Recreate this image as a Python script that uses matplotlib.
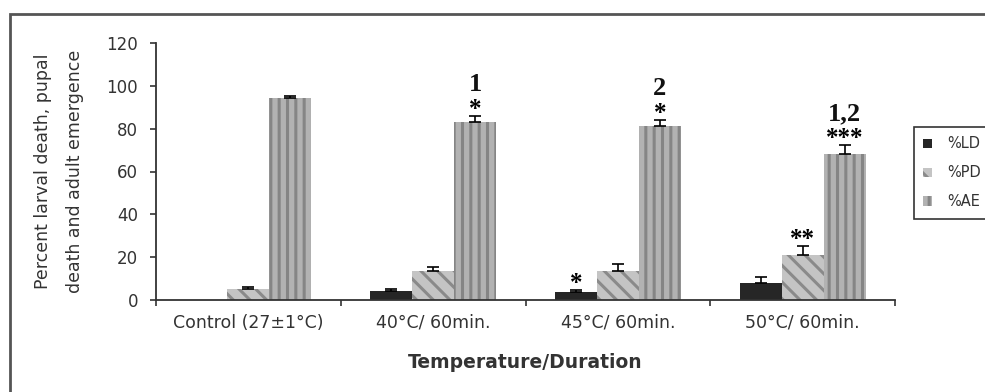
import matplotlib
matplotlib.use("Agg")
import matplotlib.pyplot as plt
from matplotlib.patches import Rectangle, Patch
import numpy as np

categories = ["Control (27\u00b11\u00b0C)", "40\u00b0C/ 60min.", "45\u00b0C/ 60min.", "50\u00b0C/ 60min."]
series_names = ["%LD", "%PD", "%AE"]
ld_values = [0.0, 4.2, 3.9, 7.8]
pd_values = [5.3, 13.5, 13.5, 21.0]
ae_values = [94.5, 83.0, 81.3, 68.0]
ld_err = [0.0, 0.8, 0.8, 2.8]
pd_err = [0.7, 1.8, 3.5, 4.4]
ae_err = [0.7, 3.0, 2.7, 4.4]
ld_stars = ["", "", "*", ""]
pd_stars = ["", "", "", "**"]
ae_stars = ["", "*", "*", "***"]
ae_labels = ["", "1", "2", "1,2"]

plt.rcParams['hatch.linewidth'] = 2.2

fig = plt.figure(figsize=(9.85, 3.92), dpi=100)
ax = fig.add_axes([156/985, 1-300/392, (895-156)/985, (300-43)/392])

x = np.arange(len(categories))
w = 1/4.4
styles = [
    dict(color="#262626", edgecolor="#262626", hatch=None),
    dict(color="#c4c4c4", edgecolor="#8a8a8a", hatch="\\\\"),
    dict(color="#b2b2b2", edgecolor="#858585", hatch="||"),
]
vals = [ld_values, pd_values, ae_values]
errs = [ld_err, pd_err, ae_err]
stars = [ld_stars, pd_stars, ae_stars]
for i, (v, e, st, s) in enumerate(zip(vals, errs, styles, stars)):
    xs = x + (i - 1) * w
    v = np.asarray(v, float)
    e = np.asarray(e, float)
    ax.bar(xs, v, width=w, color=st["color"], edgecolor=st["edgecolor"],
           hatch=st["hatch"], linewidth=0, zorder=2)
    m = v > 0
    ax.errorbar(xs[m], v[m], yerr=[np.zeros(m.sum()), e[m]], fmt="none", ecolor="black",
                elinewidth=1.2, capsize=4, capthick=1.2, zorder=3)
    for xi, vi, ei, si in zip(xs, v, e, s):
        if si:
            ax.annotate(si, (xi, vi + ei), xytext=(0, 0), textcoords="offset points",
                        ha="center", va="baseline", fontsize=18, fontweight="bold",
                        family="Liberation Serif", color="black")

for xi, vi, ei, lab in zip(x + w, ae_values, ae_err, ae_labels):
    if lab:
        ax.annotate(lab, (xi, vi + ei), xytext=(0, 18), textcoords="offset points",
                    ha="center", va="baseline", fontsize=19, fontweight="bold",
                    family="Liberation Serif", color="#111111")

ax.set_xlim(-0.5, len(categories) - 0.5)
ax.set_ylim(0, 120)
ax.set_yticks(range(0, 121, 20))
ax.set_xticks(x)
ax.set_xticklabels(categories, fontsize=12.5, color="#333333")
ax.set_xticks(np.arange(-0.5, len(categories), 1.0), minor=True)
ax.tick_params(axis="x", which="major", length=0, pad=10)
ax.tick_params(axis="x", which="minor", length=4, width=1.2, color="#333333")
ax.tick_params(axis="y", length=4, width=1.2, color="#333333", labelsize=12,
               labelcolor="#333333", pad=9)
for sp in ["top", "right"]:
    ax.spines[sp].set_visible(False)
for sp in ["left", "bottom"]:
    ax.spines[sp].set_linewidth(1.3)
    ax.spines[sp].set_color("#333333")

ax.set_ylabel("Percent larval death, pupal\ndeath and adult emergence", fontsize=12.5,
              color="#333333", labelpad=16, linespacing=2.0)
ax.set_xlabel("Temperature/Duration", fontsize=13.5, fontweight="bold", color="#333333", labelpad=15)

handles = [Patch(facecolor=st["color"], edgecolor=st["edgecolor"], hatch=st["hatch"], linewidth=0)
           for st in styles]
leg = fig.legend(handles, series_names, loc="upper left", bbox_to_anchor=(914/985, 1-127/392),
                 fontsize=10.5, frameon=True, fancybox=False, edgecolor="black",
                 handlelength=0.6, handleheight=0.6, handletextpad=1.0, borderpad=0.65,
                 labelspacing=0.95, borderaxespad=0)
leg.get_frame().set_linewidth(1.2)
for t in leg.get_texts():
    t.set_color("#333333")

fig.patches.append(Rectangle((10/985, -0.1), 1.2, (1 - 14/392) + 0.1, transform=fig.transFigure,
                             fill=False, linewidth=2, edgecolor="#555555"))

fig.savefig("out.png", dpi=100)
